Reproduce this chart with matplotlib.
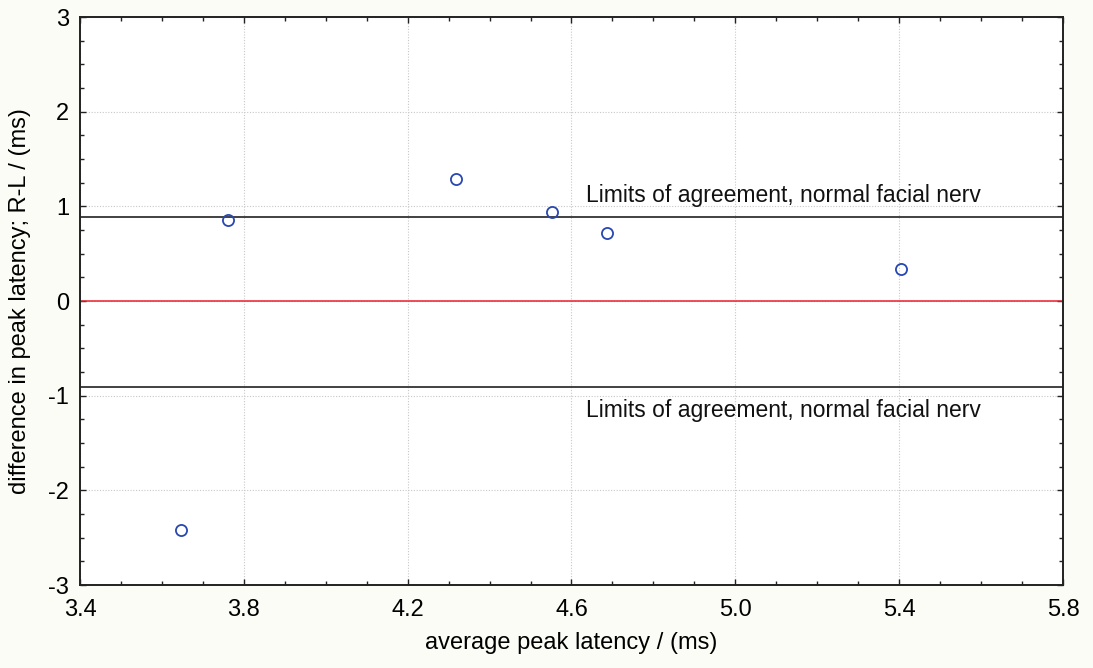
import numpy as np
import matplotlib.pyplot as plt
from matplotlib.ticker import MultipleLocator, FixedLocator

# Bland-Altman style data: mean vs difference of R/L peak latency
avg_latency = [3.646, 3.762, 4.318, 4.553, 4.686, 5.404]
diff_latency = [-2.42, 0.86, 1.29, 0.94, 0.72, 0.34]

upper_limit = 0.89
lower_limit = -0.91
limit_label = "Limits of agreement, normal facial nerv"

x_ticks = [3.4, 3.8, 4.2, 4.6, 5.0, 5.4, 5.8]
y_ticks = [-3, -2, -1, 0, 1, 2, 3]

plt.rcParams['font.family'] = ['Liberation Sans', 'DejaVu Sans']

fig = plt.figure(figsize=(10.93, 6.68), dpi=100, facecolor='#fcfcf7')
ax = fig.add_axes([80 / 1093, 1 - 585 / 668, (1063 - 80) / 1093, (585 - 17) / 668])

ax.set_xlim(3.4, 5.8)
ax.set_ylim(-3, 3)
ax.xaxis.set_major_locator(FixedLocator(x_ticks))
ax.xaxis.set_minor_locator(MultipleLocator(0.1))
ax.yaxis.set_major_locator(FixedLocator(y_ticks))
ax.yaxis.set_minor_locator(MultipleLocator(0.25))
ax.xaxis.set_major_formatter(plt.FuncFormatter(lambda v, p: f"{v:.1f}"))
ax.yaxis.set_major_formatter(plt.FuncFormatter(lambda v, p: f"{v:.0f}"))

ax.tick_params(which='both', direction='in', top=True, right=True, color='#222222')
ax.tick_params(which='major', length=4, width=1, labelsize=17)
ax.tick_params(axis='x', which='major', pad=10)
ax.tick_params(axis='y', which='major', pad=8)
ax.tick_params(which='minor', length=3, width=1)

ax.grid(True, which='major', color='#c8c8c8', linestyle=(0, (1, 1.5)), linewidth=0.8)
ax.set_axisbelow(True)
for s in ax.spines.values():
    s.set_linewidth(1.4)
    s.set_color('#222222')

ax.axhline(0, color='#e8202a', linewidth=1.1)
ax.axhline(upper_limit, color='#333333', linewidth=1.3)
ax.axhline(lower_limit, color='#333333', linewidth=1.3)

ax.text(4.635, upper_limit + 0.16, limit_label, fontsize=16.5, va='baseline', color='#111111')
ax.text(4.635, lower_limit - 0.12, limit_label, fontsize=16.5, va='top', color='#111111')

ax.plot(avg_latency, diff_latency, linestyle='none', marker='o', markersize=8,
        markerfacecolor='none', markeredgecolor='#2848b0', markeredgewidth=1.3)

ax.set_xlabel("average peak latency / (ms)", fontsize=17, labelpad=8)
ax.set_ylabel("difference in peak latency; R-L / (ms)", fontsize=17, labelpad=12)

fig.savefig("out.png", dpi=100, facecolor=fig.get_facecolor())
